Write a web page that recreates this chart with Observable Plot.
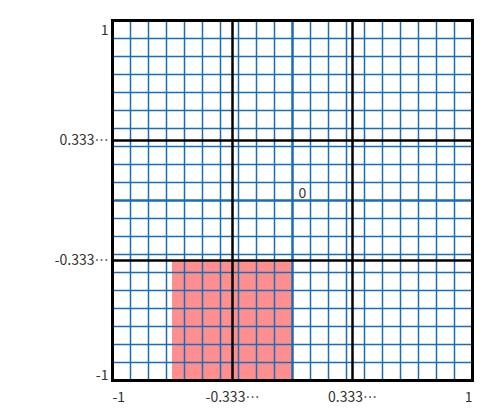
<!DOCTYPE html>
<html><head><meta charset="utf-8">
<script src="https://cdn.jsdelivr.net/npm/d3@7"></script>
<script src="https://cdn.jsdelivr.net/npm/@observablehq/plot@0.6"></script>
<style>body{margin:0;background:#fff}</style>
</head><body><div id="chart"></div>
<script>
const gridValues = [-0.9,-0.8,-0.7,-0.6,-0.5,-0.4,-0.3,-0.2,-0.1,0.1,0.2,0.3,0.4,0.5,0.6,0.7,0.8,0.9];
const axisValues = [0];
const thirdValues = [-1/3, 1/3];
const xTickValues = [-1, -1/3, 1/3, 1];
const xTickLabels = ["-1", "-0.333\u2026", "0.333\u2026", "1"];
const yTickValues = [1, 1/3, -1/3, -1];
const yTickLabels = ["1", "0.333\u2026", "-0.333\u2026", "-1"];
const rects = [{x1: -2/3, x2: 0, y1: -1, y2: -1/3}];

const blue = "#1c6cb4";
const font = "'Noto Sans CJK JP', sans-serif";
const xt = xTickValues.map((v,i)=>({v, t:xTickLabels[i]}));
const yt = yTickValues.map((v,i)=>({v, t:yTickLabels[i]}));

const plot = Plot.plot({
  width: 483, height: 413,
  marginLeft: 112, marginRight: 11, marginTop: 20, marginBottom: 33,
  x: {domain: [-1, 1], axis: null},
  y: {domain: [-1, 1], axis: null},
  style: {fontFamily: font, fontSize: "14px", color: "#333", background: "#fff"},
  marks: [
    Plot.rect(rects, {x1: "x1", x2: "x2", y1: "y1", y2: "y2", fill: "#ff8f8f"}),
    Plot.ruleX(gridValues, {stroke: blue, strokeWidth: 1.5}),
    Plot.ruleY(gridValues, {stroke: blue, strokeWidth: 1.5}),
    Plot.ruleX(axisValues, {stroke: blue, strokeWidth: 2.5}),
    Plot.ruleY(axisValues, {stroke: blue, strokeWidth: 2.5}),
    Plot.ruleX(thirdValues, {stroke: "#000", strokeWidth: 2.5}),
    Plot.ruleY(thirdValues, {stroke: "#000", strokeWidth: 2.5}),
    Plot.frame({stroke: "#000", strokeWidth: 3}),
    Plot.text(axisValues, {x: d => d, y: d => d, text: d => String(d), dx: 6, dy: -7, textAnchor: "start", fill: "#333"}),
    // x labels
    Plot.text(xt.slice(0,1), {x: "v", text: "t", frameAnchor: "bottom", dy: 12, lineAnchor: "top", textAnchor: "start", fill: "#333"}),
    Plot.text(xt.slice(1,3), {x: "v", text: "t", frameAnchor: "bottom", dy: 12, lineAnchor: "top", textAnchor: "middle", fill: "#333"}),
    Plot.text(xt.slice(3), {x: "v", text: "t", frameAnchor: "bottom", dy: 12, lineAnchor: "top", textAnchor: "end", fill: "#333"}),
    // y labels
    Plot.text(yt.slice(0,1), {y: "v", text: "t", frameAnchor: "left", dx: -4, lineAnchor: "top", textAnchor: "end", dy: 5, fill: "#333"}),
    Plot.text(yt.slice(1,3), {y: "v", text: "t", frameAnchor: "left", dx: -4, lineAnchor: "middle", textAnchor: "end", fill: "#333"}),
    Plot.text(yt.slice(3), {y: "v", text: "t", frameAnchor: "left", dx: -4, lineAnchor: "bottom", textAnchor: "end", dy: -1, fill: "#333"})
  ]
});
document.getElementById("chart").appendChild(plot);
</script>
</body></html>
